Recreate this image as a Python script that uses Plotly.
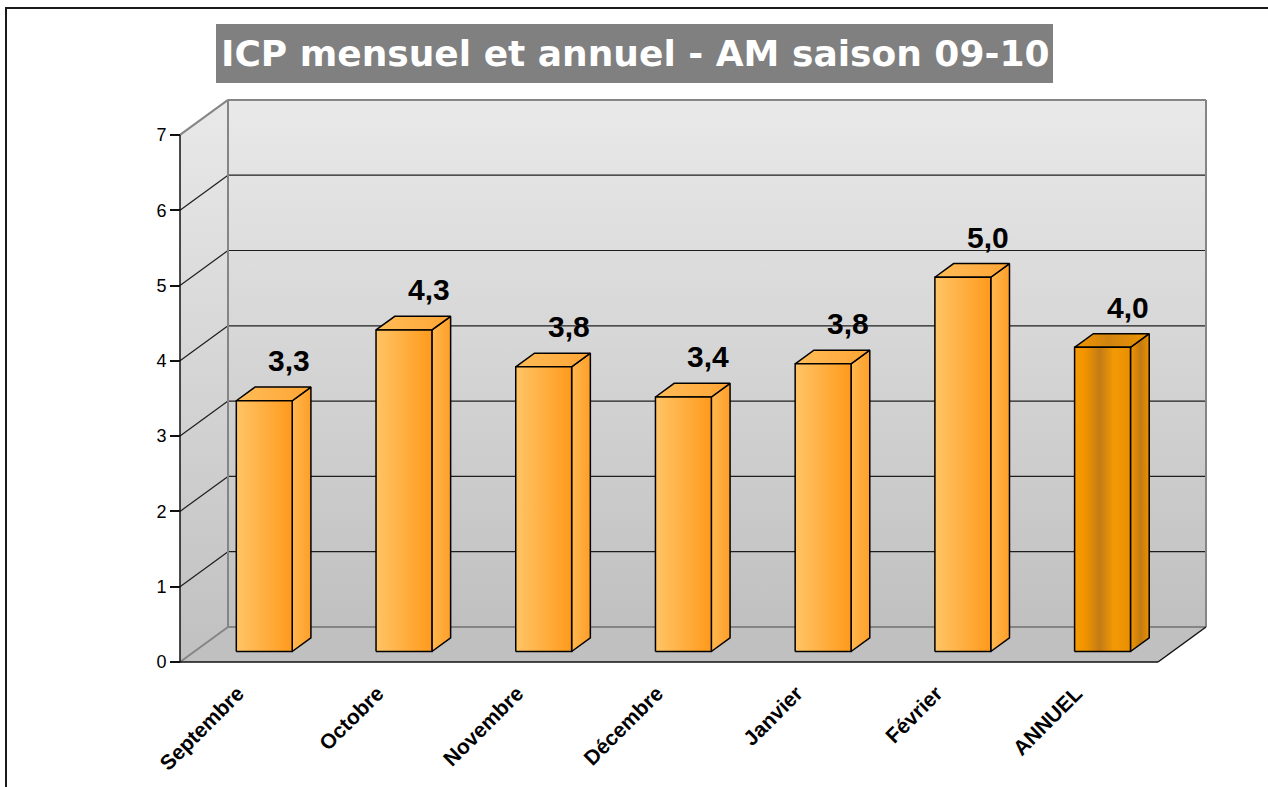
import plotly.graph_objects as go

# ---------------- data ----------------
categories = ["Septembre", "Octobre", "Novembre", "Décembre", "Janvier", "Février", "ANNUEL"]
values = [3.33, 4.27, 3.78, 3.38, 3.82, 4.97, 4.04]
y_ticks = [0, 1, 2, 3, 4, 5, 6, 7]
title_text = "ICP mensuel et annuel - AM saison 09-10"

# ---------------- geometry (pixels -> data) ----------------
W, H = 1268, 787
PX_FRONT_LEFT, PX_FRONT_RIGHT = 180, 1158
PX_ZERO = 662
UX = (PX_FRONT_RIGHT - PX_FRONT_LEFT) / len(categories)
UY = 75.3
DX = 48 / UX          # depth offset (x) of the walls
DY = 35 / UY          # depth offset (y) of the walls
BAR_W = 0.4
F1, F2 = 0.30, 0.69   # bar front / back depth fractions

DOM_L, DOM_R, DOM_B, DOM_T = 172, 1216, 668, 86
x_lo, x_hi = -0.5, len(categories) - 0.5
xr = [x_lo + (DOM_L - PX_FRONT_LEFT) / UX, x_lo + (DOM_R - PX_FRONT_LEFT) / UX]
yr = [(PX_ZERO - DOM_B) / UY, (PX_ZERO - DOM_T) / UY]
y_top = max(y_ticks)

fig = go.Figure()


def poly(px, py, fill=None, grad=None, line_color="black", lw=1.5):
    px = list(px) + [px[0]]
    py = list(py) + [py[0]]
    kw = dict(x=px, y=py, mode="lines", hoverinfo="skip", showlegend=False,
              line=dict(color=line_color, width=lw))
    if fill is not None or grad is not None:
        kw["fill"] = "toself"
        if fill is not None:
            kw["fillcolor"] = fill
        if grad is not None:
            kw["fillgradient"] = grad
    fig.add_trace(go.Scatter(**kw))


def lines(segs, color, lw):
    xs, ys = [], []
    for (a, b), (c, d) in segs:
        xs += [a, c, None]
        ys += [b, d, None]
    fig.add_trace(go.Scatter(x=xs, y=ys, mode="lines", hoverinfo="skip", showlegend=False,
                             line=dict(color=color, width=lw)))


wall_scale = [[0, "#c0c0c0"], [1, "#e9e9e9"]]
# back wall
poly([x_lo + DX, x_hi + DX, x_hi + DX, x_lo + DX], [DY, DY, y_top + DY, y_top + DY],
     grad=dict(type="vertical", colorscale=wall_scale, start=DY, stop=y_top + DY),
     line_color="rgba(0,0,0,0)", lw=0)
# left wall
poly([x_lo, x_lo, x_lo + DX, x_lo + DX], [0, y_top, y_top + DY, DY],
     grad=dict(type="vertical", colorscale=wall_scale, start=0, stop=y_top + DY),
     line_color="rgba(0,0,0,0)", lw=0)
# floor
poly([x_lo, x_hi, x_hi + DX, x_lo + DX], [0, 0, DY, DY], fill="#c0c0c0",
     line_color="rgba(0,0,0,0)", lw=0)

# gridlines
grid = []
for k in y_ticks[1:-1]:
    grid.append(((x_lo + DX, k + DY), (x_hi + DX, k + DY)))
    grid.append(((x_lo, k), (x_lo + DX, k + DY)))
lines(grid, "#1e1e1e", 1.2)

# gray edges
gray = [((x_lo + DX, DY), (x_lo + DX, y_top + DY)),
        ((x_lo + DX, y_top + DY), (x_hi + DX, y_top + DY)),
        ((x_hi + DX, y_top + DY), (x_hi + DX, DY)),
        ((x_lo + DX, DY), (x_hi + DX, DY)),
        ((x_lo, y_top), (x_lo + DX, y_top + DY)),
        ((x_lo, 0), (x_lo + DX, DY))]
lines(gray, "#858585", 2)

# black edges
black = [((x_lo, 0), (x_lo, y_top)),
         ((x_lo, 0), (x_hi, 0)),
         ((x_hi, 0), (x_hi + DX, DY))]
lines(black, "#111111", 1.5)

# bars
normal_front = [[0, "#ffc466"], [1, "#ff9a1c"]]
normal_side = [[0, "#ffb850"], [1, "#ff9e28"]]
normal_top = [[0, "#ffbd58"], [1, "#ffa434"]]
annual_front = [[0, "#f89a00"], [0.2, "#f09300"], [0.45, "#c27b16"], [0.7, "#f49906"], [1, "#e98f00"]]
annual_side = [[0, "#f29400"], [0.55, "#c27a12"], [1, "#ea9204"]]
annual_top = [[0, "#f49600"], [0.45, "#d08410"], [1, "#f09400"]]

for i, v in enumerate(values):
    last = i == len(values) - 1
    fr, sd, tp = (annual_front, annual_side, annual_top) if last else (normal_front, normal_side, normal_top)
    xl = i - BAR_W / 2 + F1 * DX
    xrr = i + BAR_W / 2 + F1 * DX
    yb = F1 * DY
    yt = v + F1 * DY
    ddx = (F2 - F1) * DX
    ddy = (F2 - F1) * DY
    # side
    poly([xrr, xrr + ddx, xrr + ddx, xrr], [yb, yb + ddy, yt + ddy, yt],
         grad=dict(type="horizontal", colorscale=sd, start=xrr, stop=xrr + ddx))
    # top
    poly([xl, xrr, xrr + ddx, xl + ddx], [yt, yt, yt + ddy, yt + ddy],
         grad=dict(type="horizontal", colorscale=tp, start=xl, stop=xrr + ddx))
    # front
    poly([xl, xrr, xrr, xl], [yb, yb, yt, yt],
         grad=dict(type="horizontal", colorscale=fr, start=xl, stop=xrr))
    fig.add_annotation(x=i + F1 * DX, y=yt, xref="x", yref="y",
                       text="<b>" + f"{v:.1f}".replace(".", ",") + "</b>",
                       showarrow=False, xshift=25, yshift=40, xanchor="center", yanchor="middle",
                       font=dict(family="Liberation Sans, Arial", size=30, color="black"))

# title box + title
fig.add_shape(type="rect", xref="paper", yref="paper", x0=216 / W, x1=1053 / W,
              y0=1 - 83 / H, y1=1 - 24 / H, fillcolor="#808080", line=dict(width=0), layer="above")
fig.add_annotation(x=634.5 / W, y=1 - 53.5 / H, xref="paper", yref="paper",
                   text="<b>" + title_text + "</b>", showarrow=False,
                   xanchor="center", yanchor="middle",
                   font=dict(family="DejaVu Sans", size=36, color="white"))

# outer border
fig.add_shape(type="rect", xref="paper", yref="paper", x0=6 / W, y0=1 - 8 / H, x1=1.05, y1=-0.05,
              line=dict(color="#1a1a1a", width=2), fillcolor="rgba(0,0,0,0)")

fig.update_layout(
    width=W, height=H,
    margin=dict(l=0, r=0, t=0, b=0, autoexpand=False),
    paper_bgcolor="white", plot_bgcolor="white",
    showlegend=False,
    xaxis=dict(domain=[DOM_L / W, DOM_R / W], range=xr, anchor="free", position=1 - PX_ZERO / H,
               tickvals=list(range(len(categories))),
               ticktext=["<b>" + c + "</b>" for c in categories],
               tickangle=-45, ticks="", showgrid=False, zeroline=False, showline=False,
               ticklabelstandoff=14, ticklabelshift=-12, automargin=False,
               tickfont=dict(family="Liberation Sans, Arial", size=21, color="black")),
    xaxis2=dict(overlaying="x", range=xr, domain=[DOM_L / W, DOM_R / W], anchor="free",
                position=1 - PX_ZERO / H, side="bottom",
                tickvals=[k - 0.5 for k in range(len(categories) + 1)],
                ticks="outside", ticklen=9, tickwidth=2, tickcolor="#858585",
                showticklabels=False, showgrid=False, zeroline=False, showline=False),
    yaxis=dict(domain=[1 - DOM_B / H, 1 - DOM_T / H], range=yr, anchor="free",
               position=PX_FRONT_LEFT / W, automargin=False,
               tickvals=y_ticks, ticktext=[str(t) for t in y_ticks],
               ticks="outside", ticklen=10, tickwidth=1.5, tickcolor="#111111",
               showgrid=False, zeroline=False, showline=False,
               tickfont=dict(family="Liberation Sans, Arial", size=18, color="black")),
)

fig.write_html("out.html", config={"displayModeBar": False},
               post_script="document.body.style.margin='0px';")
